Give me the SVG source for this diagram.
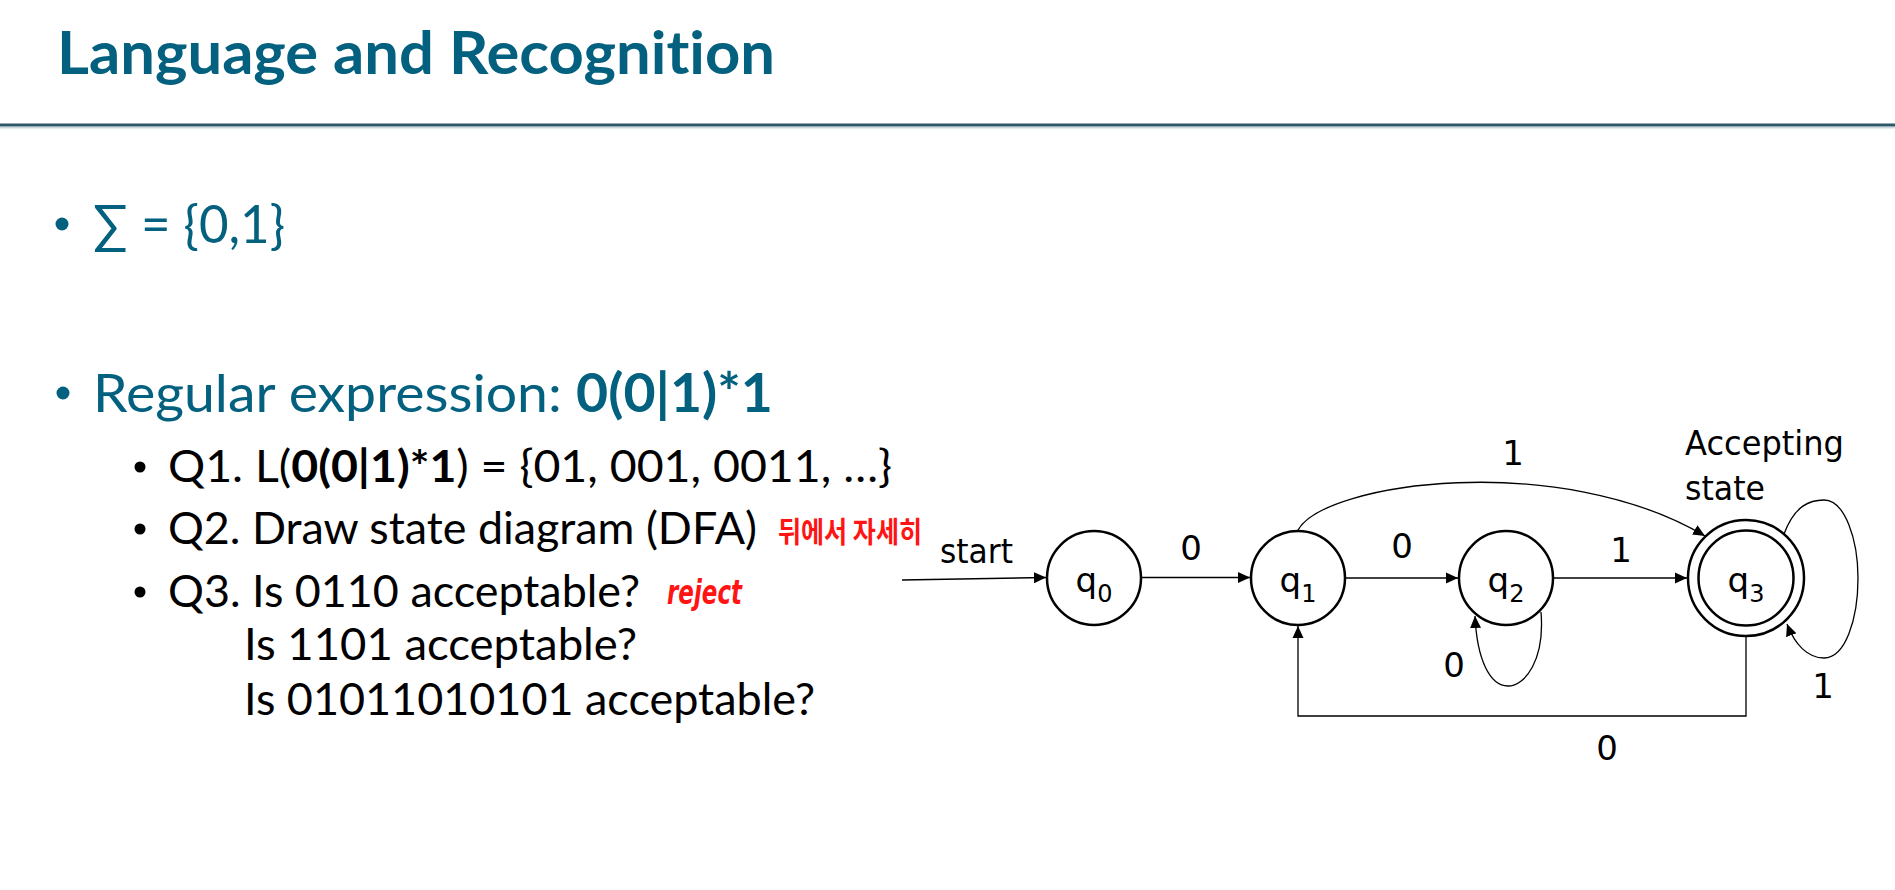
<svg xmlns="http://www.w3.org/2000/svg" width="1895" height="890" viewBox="0 0 1895 890">
  <style>
    text { font-variant-ligatures: none; }
    .title { font-family: Lato, "Open Sans", "Liberation Sans", sans-serif; font-weight: bold; font-size: 60px; fill: #03607F; }
    .lvl1 { font-family: Lato, "Open Sans", "Liberation Sans", sans-serif; font-size: 53px; fill: #03607F; }
    .lvl2 { font-family: Lato, "Open Sans", "Liberation Sans", sans-serif; font-size: 44px; fill: #000; }
    .b { font-weight: bold; }
    .note { font-family: "Noto Sans CJK KR", "DejaVu Sans", sans-serif; font-size: 29px; fill: #FF1414; font-weight: bold; }
    .note-en { font-family: "DejaVu Sans", "Liberation Sans", sans-serif; font-size: 33px; fill: #FF1414; font-style: italic; font-weight: bold; }
    .lbl { font-family: "DejaVu Sans", Tahoma, sans-serif; font-size: 34px; fill: #000; }
    .state { fill: #fff; stroke: #000; stroke-width: 2.5; }
    .edge { fill: none; stroke: #000; stroke-width: 1.3; }
    .arr { marker-end: url(#arrow); }
  </style>
  <defs>
    <marker id="arrow" markerWidth="13" markerHeight="12" refX="12" refY="6" orient="auto" markerUnits="userSpaceOnUse">
      <path d="M0,0.5 L12,6 L0,11.5 z" fill="#000"/>
    </marker>
  </defs>

  <rect width="1895" height="890" fill="#fff"/>

  <!-- heading and rule -->
  <g id="heading">
    <text class="title" x="57" y="74" textLength="718" lengthAdjust="spacingAndGlyphs">Language and Recognition</text>
    <line x1="0" y1="125" x2="1895" y2="125" stroke="#2C5769" stroke-width="3"/>
    <line x1="0" y1="127.8" x2="1895" y2="127.8" stroke="#CCD9DF" stroke-width="1.5"/>
  </g>

  <!-- bullet text -->
  <g id="bullets">
    <circle cx="62" cy="224" r="6.5" fill="#03607F"/>
    <text class="lvl1" x="93" y="243" textLength="192" lengthAdjust="spacingAndGlyphs">∑ = {0,1}</text>

    <circle cx="63" cy="393" r="6.5" fill="#03607F"/>
    <text class="lvl1" x="93" y="412" textLength="680" lengthAdjust="spacingAndGlyphs">Regular expression: <tspan class="b">0(0|1)*1</tspan></text>

    <circle cx="140" cy="467" r="5.5" fill="#000"/>
    <text class="lvl2" x="168" y="482" textLength="724" lengthAdjust="spacingAndGlyphs">Q1. L(<tspan class="b">0(0|1)*1</tspan>) = {01, 001, 0011, …}</text>

    <circle cx="140" cy="529" r="5.5" fill="#000"/>
    <text class="lvl2" x="168" y="544" textLength="589" lengthAdjust="spacingAndGlyphs">Q2. Draw state diagram (DFA)</text>
    <text class="note" x="778" y="543" textLength="144" lengthAdjust="spacingAndGlyphs">뒤에서 자세히</text>

    <circle cx="140" cy="592" r="5.5" fill="#000"/>
    <text class="lvl2" x="168" y="607" textLength="472" lengthAdjust="spacingAndGlyphs">Q3. Is 0110 acceptable?</text>
    <text class="note-en" x="667" y="604" textLength="75" lengthAdjust="spacingAndGlyphs">reject</text>
    <text class="lvl2" x="244" y="660" textLength="393" lengthAdjust="spacingAndGlyphs">Is 1101 acceptable?</text>
    <text class="lvl2" x="244" y="715" textLength="571" lengthAdjust="spacingAndGlyphs">Is 01011010101 acceptable?</text>
  </g>

  <!-- transitions -->
  <g id="connectors">
    <path class="edge arr" d="M902,580 L1046,577.5"/>
    <path class="edge arr" d="M1142,577.5 L1250,577.5"/>
    <path class="edge arr" d="M1345,578 L1458,578"/>
    <path class="edge arr" d="M1553,578 L1687,578"/>
    <path class="edge arr" d="M1298,530 C1325,482 1560,450 1705,536"/>
    <path class="edge arr" d="M1541,612 C1545,660 1525,686 1508,686 C1490,686 1477,660 1475,616"/>
    <path class="edge arr" d="M1784,534 C1795,505 1810,500 1824,500 C1845,500 1858,540 1858,578 C1858,620 1845,658 1824,658 C1808,658 1795,645 1787,624"/>
    <path class="edge arr" d="M1746,636 L1746,716 L1298,716 L1298,626"/>
  </g>

  <!-- transition labels -->
  <g id="labels">
    <text class="lbl" x="940" y="563" textLength="73" lengthAdjust="spacingAndGlyphs">start</text>
    <text class="lbl" x="1191" y="560" text-anchor="middle">0</text>
    <text class="lbl" x="1402" y="558" text-anchor="middle">0</text>
    <text class="lbl" x="1621" y="562" text-anchor="middle">1</text>
    <text class="lbl" x="1513" y="465" text-anchor="middle">1</text>
    <text class="lbl" x="1454" y="677" text-anchor="middle">0</text>
    <text class="lbl" x="1823" y="698" text-anchor="middle">1</text>
    <text class="lbl" x="1607" y="760" text-anchor="middle">0</text>
    <text class="lbl" x="1685" y="455" textLength="159" lengthAdjust="spacingAndGlyphs">Accepting</text>
    <text class="lbl" x="1685" y="500" textLength="80" lengthAdjust="spacingAndGlyphs">state</text>
  </g>

  <!-- states -->
  <g id="q0">
    <circle class="state" cx="1094" cy="578" r="47"/>
    <text class="lbl" x="1094" y="592" text-anchor="middle">q<tspan font-size="24" dy="10">0</tspan></text>
  </g>
  <g id="q1">
    <circle class="state" cx="1298" cy="578" r="47"/>
    <text class="lbl" x="1298" y="592" text-anchor="middle">q<tspan font-size="24" dy="10">1</tspan></text>
  </g>
  <g id="q2">
    <circle class="state" cx="1506" cy="578" r="47"/>
    <text class="lbl" x="1506" y="592" text-anchor="middle">q<tspan font-size="24" dy="10">2</tspan></text>
  </g>
  <g id="q3">
    <circle class="state" cx="1746" cy="578" r="58"/>
    <circle class="state" cx="1746" cy="578" r="47.5" fill="none"/>
    <text class="lbl" x="1746" y="592" text-anchor="middle">q<tspan font-size="24" dy="10">3</tspan></text>
  </g>
</svg>
